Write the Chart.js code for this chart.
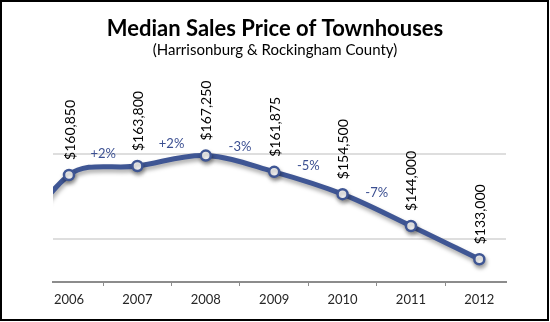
<!DOCTYPE html>
<html>
<head>
<meta charset="utf-8">
<script src="https://cdn.jsdelivr.net/npm/chart.js@4.4.1/dist/chart.umd.min.js"></script>
<style>
  html, body { margin: 0; padding: 0; background: #fff; }
  canvas { display: block; }
</style>
</head>
<body>
<canvas id="chart" width="550" height="322"></canvas>
<script>
// Median townhouse sale price by year (2005 only carries the line in from the left edge)
const years = [2005, 2006, 2007, 2008, 2009, 2010, 2011, 2012];
const prices = [128000, 160850, 163800, 167250, 161875, 154500, 144000, 133000];

// Years shown on the category axis
const yearLabels = [2006, 2007, 2008, 2009, 2010, 2011, 2012];

// Year-over-year change, 2006→2007 through 2010→2011
const changeLabels = ['+2%', '+2%', '-3%', '-5%', '-7%'];

// Horizontal gridline levels
const gridLevels = [139750, 167750];

const titleText = 'Median Sales Price of Townhouses';
const subtitleText = '(Harrisonburg & Rockingham County)';

const LINE_BLUE = '#3F5694';
const FONT = 'Lato, "Open Sans", sans-serif';

const firstYear = yearLabels[0];
const points = years.map((yr, i) => ({ x: yr, y: prices[i] }));

const money = v => '$' + v.toLocaleString('en-US');

// Frame, heading and subtitle
const framePlugin = {
  id: 'frame',
  afterDraw(chart) {
    const ctx = chart.ctx;
    ctx.save();
    ctx.fillStyle = '#000';
    ctx.textAlign = 'center';
    ctx.textBaseline = 'alphabetic';
    ctx.font = 'bold 22px ' + FONT;
    ctx.fillText(titleText, 275, 36);
    ctx.font = '15px ' + FONT;
    ctx.fillText(subtitleText, 275, 55);
    ctx.lineWidth = 2;
    ctx.strokeStyle = '#000';
    ctx.strokeRect(1, 1, 547, 319);
    ctx.restore();
  }
};

// Soft drop shadow under the line and markers
const shadowPlugin = {
  id: 'lineShadow',
  beforeDatasetsDraw(chart) {
    const ctx = chart.ctx;
    ctx.save();
    ctx.shadowColor = 'rgba(0,0,0,0.35)';
    ctx.shadowBlur = 4;
    ctx.shadowOffsetX = 1;
    ctx.shadowOffsetY = 3;
  },
  afterDatasetsDraw(chart) {
    chart.ctx.restore();
  }
};

// Vertical price labels above each point and change labels between points
const labelPlugin = {
  id: 'valueLabels',
  afterDatasetsDraw(chart) {
    const ctx = chart.ctx;
    const meta = chart.getDatasetMeta(0);
    const shown = [];
    meta.data.forEach((pt, i) => {
      if (years[i] >= firstYear) shown.push({ el: pt, value: prices[i] });
    });
    ctx.save();
    ctx.font = '14px ' + FONT;
    ctx.fillStyle = '#000';
    ctx.textAlign = 'left';
    ctx.textBaseline = 'middle';
    shown.forEach(s => {
      ctx.save();
      ctx.translate(s.el.x + 1, s.el.y - 15);
      ctx.rotate(-Math.PI / 2);
      ctx.fillText(money(s.value), 0, 0);
      ctx.restore();
    });
    ctx.font = '13px ' + FONT;
    ctx.fillStyle = '#3B4F91';
    ctx.textAlign = 'center';
    changeLabels.forEach((txt, i) => {
      const a = shown[i].el, b = shown[i + 1].el;
      ctx.fillText(txt, (a.x + b.x) / 2, (a.y + b.y) / 2 - 17);
    });
    ctx.restore();
  }
};

new Chart(document.getElementById('chart'), {
  type: 'line',
  data: {
    datasets: [{
      data: points,
      borderColor: LINE_BLUE,
      borderWidth: 5,
      tension: 0.35,
      fill: false,
      clip: 0,
      pointRadius: ctx => (ctx.raw && ctx.raw.x < firstYear ? 0 : 5),
      pointBackgroundColor: '#ffffff',
      pointBorderColor: LINE_BLUE,
      pointBorderWidth: 2.5
    }]
  },
  options: {
    responsive: false,
    animation: false,
    devicePixelRatio: 1,
    layout: { padding: { left: 53, right: 44, top: 59, bottom: 0 } },
    elements: { line: { capBezierPoints: false } },
    plugins: {
      legend: { display: false },
      title: { display: false },
      tooltip: { enabled: false }
    },
    scales: {
      x: {
        type: 'linear',
        min: 2005.766,
        max: 2012.39,
        afterBuildTicks(scale) {
          const t = [];
          yearLabels.forEach((y, i) => {
            t.push({ value: y });
            if (i < yearLabels.length - 1) t.push({ value: y + 0.5 });
          });
          scale.ticks = t;
        },
        afterFit(scale) { scale.height = 40; },
        grid: {
          display: true,
          drawOnChartArea: false,
          drawTicks: true,
          tickLength: 4,
          lineWidth: 1,
          color: ctx => (ctx.tick && Number.isInteger(ctx.tick.value) ? 'rgba(0,0,0,0)' : '#8c8c8c')
        },
        border: { display: true, color: '#8c8c8c', width: 2 },
        ticks: {
          autoSkip: false,
          maxRotation: 0,
          padding: 6,
          color: '#262626',
          font: { family: FONT, size: 13 },
          callback: v => (Number.isInteger(v) && yearLabels.includes(v) ? String(v) : '')
        }
      },
      y: {
        type: 'linear',
        min: 125500,
        max: 199150,
        afterBuildTicks(scale) {
          scale.ticks = gridLevels.map(v => ({ value: v }));
        },
        afterFit(scale) { scale.width = 0; },
        grid: { color: '#dedede', lineWidth: 2, drawTicks: false },
        border: { display: false },
        ticks: { display: false }
      }
    }
  },
  plugins: [shadowPlugin, labelPlugin, framePlugin]
});
</script>
</body>
</html>
